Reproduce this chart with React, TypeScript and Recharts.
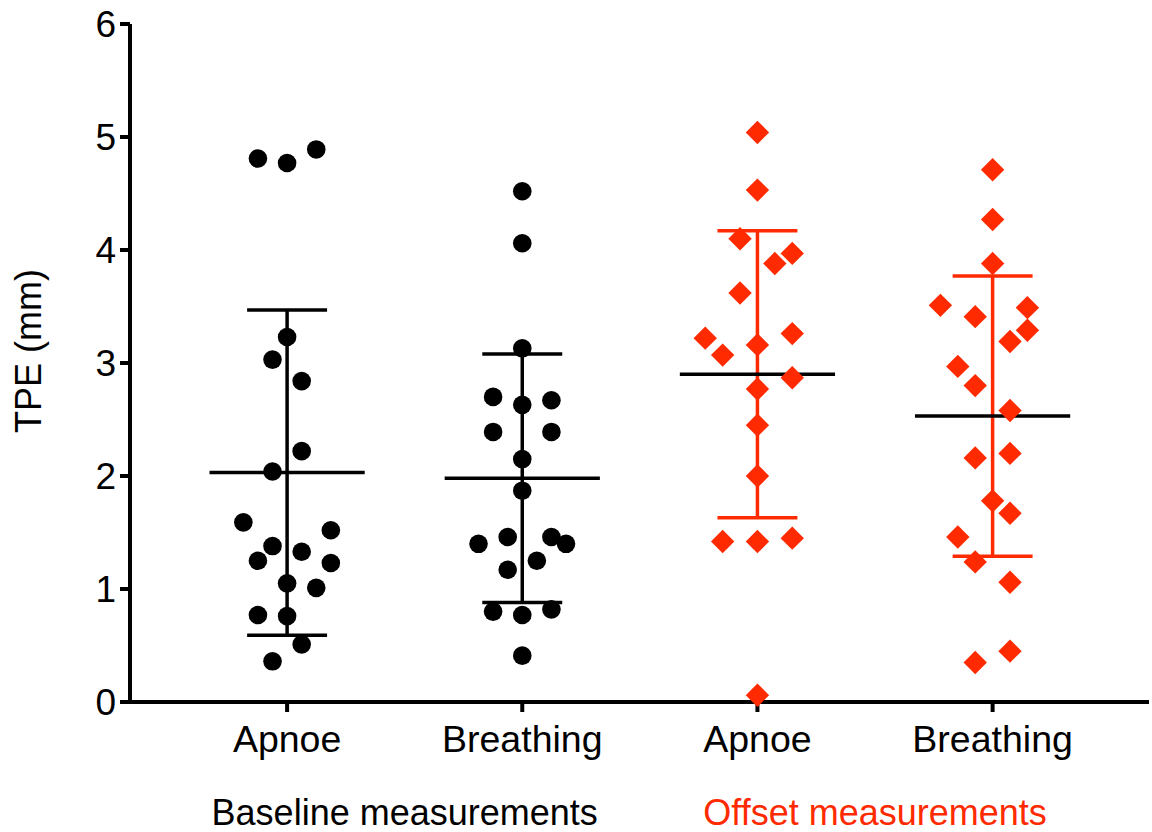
import { ScatterChart, Scatter, XAxis, YAxis, ReferenceLine } from "recharts";

const CATEGORIES = ["Apnoe", "Breathing", "Apnoe", "Breathing"];
const GROUP_LABELS = ["Baseline measurements", "Offset measurements"];
const GROUP_CENTERS = [1.5, 3.5];
const Y_TICKS = [0, 1, 2, 3, 4, 5, 6];

// TPE values (mm) per group, with the horizontal jitter slot of each point
const baselineApnoe = [4.81, 4.77, 4.89, 3.23, 3.03, 2.84, 2.22, 2.04, 1.59, 1.52, 1.38, 1.33, 1.25, 1.23, 1.05, 1.01, 0.77, 0.76, 0.51, 0.36];
const baselineApnoeSlots = [-2, 0, 2, 0, -1, 1, 1, -1, -3, 3, -1, 1, -2, 3, 0, 2, -2, 0, 1, -1];

const baselineBreathing = [4.52, 4.06, 3.13, 2.7, 2.63, 2.67, 2.39, 2.39, 2.15, 1.87, 1.4, 1.46, 1.46, 1.4, 1.25, 1.17, 0.8, 0.77, 0.82, 0.41];
const baselineBreathingSlots = [0, 0, 0, -2, 0, 2, -2, 2, 0, 0, -3, -1, 2, 3, 1, -1, -2, 0, 2, 0];

const offsetApnoe = [5.04, 4.53, 4.1, 3.97, 3.88, 3.62, 3.22, 3.26, 3.07, 3.16, 2.87, 2.77, 2.45, 2.0, 1.42, 1.42, 1.45, 0.06];
const offsetApnoeSlots = [0, 0, -1, 2, 1, -1, -3, 2, -2, 0, 2, 0, 0, 0, -2, 0, 2, 0];

const offsetBreathing = [4.71, 4.27, 3.88, 3.51, 3.49, 3.41, 3.29, 3.19, 2.97, 2.8, 2.58, 2.16, 2.2, 1.78, 1.67, 1.46, 1.24, 1.06, 0.45, 0.35];
const offsetBreathingSlots = [0, 0, 0, -3, 2, -1, 2, 1, -2, -1, 1, -1, 1, 0, 1, -2, -1, 1, 1, -1];

// mean and SD
const MEANS = [2.03, 1.98, 2.9, 2.53];
const SDS = [1.44, 1.1, 1.27, 1.24];

const RED = "#FF2A00";
const FONT = "'Liberation Sans', Arial, sans-serif";
const X_DOMAIN = [0.332, 4.665];
const MEAN_HALF = 0.33;
const CAP_HALF = 0.17;

const toPoints = (values: number[], slots: number[], cat: number, step: number) =>
  values.map((y, i) => ({ x: cat + slots[i] * step, y }));

const groups = [
  { data: toPoints(baselineApnoe, baselineApnoeSlots, 1, 0.062), color: "#000" },
  { data: toPoints(baselineBreathing, baselineBreathingSlots, 2, 0.062), color: "#000" },
  { data: toPoints(offsetApnoe, offsetApnoeSlots, 3, 0.074), color: RED },
  { data: toPoints(offsetBreathing, offsetBreathingSlots, 4, 0.074), color: RED },
];

// anchors for the group captions under the axis
const groupAnchors = GROUP_CENTERS.map((x) => ({ x, y: 0 }));

const Dot = (props: any) => <circle cx={props.cx} cy={props.cy} r={9.3} fill="#000" />;

const Diamond = (props: any) => {
  const { cx, cy } = props;
  const r = 11.7;
  return <polygon points={`${cx},${cy - r} ${cx + r},${cy} ${cx},${cy + r} ${cx - r},${cy}`} fill={RED} />;
};

const GroupTick = (props: any) => {
  const { x, y, payload } = props;
  const idx = payload.value < 2.5 ? 0 : 1;
  return (
    <text x={x} y={y} dy={63} textAnchor="middle" fontFamily={FONT} fontSize={36} fill={idx === 0 ? "#000" : RED}>
      {GROUP_LABELS[idx]}
    </text>
  );
};

const YLabel = () => (
  <text x={41} y={351} transform="rotate(-90 41 351)" textAnchor="middle" fontFamily={FONT} fontSize={36} fill="#000">
    TPE (mm)
  </text>
);

export default function App() {
  return (
    <div style={{ position: "absolute", left: 0, top: 0, width: 1152, height: 832, background: "#fff" }}>
      <ScatterChart width={1152} height={832} margin={{ top: 24, right: 3, bottom: 0, left: 0 }}>
        <XAxis
          xAxisId="cat"
          dataKey="x"
          type="number"
          domain={X_DOMAIN}
          ticks={[1, 2, 3, 4]}
          tickFormatter={(v) => CATEGORIES[v - 1]}
          allowDataOverflow
          height={60}
          tickSize={10}
          tickMargin={13}
          axisLine={{ stroke: "#000", strokeWidth: 4 }}
          tickLine={{ stroke: "#000", strokeWidth: 4 }}
          tick={{ fill: "#000", fontSize: 37.5, fontFamily: FONT }}
        />
        <XAxis
          xAxisId="grp"
          dataKey="x"
          type="number"
          domain={X_DOMAIN}
          ticks={GROUP_CENTERS}
          allowDataOverflow
          height={70}
          tickSize={0}
          tickMargin={0}
          axisLine={false}
          tickLine={false}
          tick={GroupTick}
        />
        <YAxis
          dataKey="y"
          type="number"
          domain={[0, 6]}
          ticks={Y_TICKS}
          width={130}
          tickSize={10}
          tickMargin={4}
          axisLine={{ stroke: "#000", strokeWidth: 4 }}
          tickLine={{ stroke: "#000", strokeWidth: 4 }}
          tick={{ fill: "#000", fontSize: 37, fontFamily: FONT }}
          label={{ content: () => <YLabel /> }}
        />
        <Scatter xAxisId="grp" data={groupAnchors} shape={() => <g />} isAnimationActive={false} />
        {groups.map((g, i) => (
          <Scatter
            key={`s-${i}`}
            xAxisId="cat"
            data={g.data}
            shape={i < 2 ? Dot : Diamond}
            isAnimationActive={false}
          />
        ))}
        {groups.map((g, i) => {
          const c = i + 1;
          const hi = MEANS[i] + SDS[i];
          const lo = MEANS[i] - SDS[i];
          return [
            <ReferenceLine key={`v-${i}`} xAxisId="cat" segment={[{ x: c, y: lo }, { x: c, y: hi }]} stroke={g.color} strokeWidth={3.5} />,
            <ReferenceLine key={`h-${i}`} xAxisId="cat" segment={[{ x: c - CAP_HALF, y: hi }, { x: c + CAP_HALF, y: hi }]} stroke={g.color} strokeWidth={3.5} />,
            <ReferenceLine key={`l-${i}`} xAxisId="cat" segment={[{ x: c - CAP_HALF, y: lo }, { x: c + CAP_HALF, y: lo }]} stroke={g.color} strokeWidth={3.5} />,
            <ReferenceLine key={`m-${i}`} xAxisId="cat" segment={[{ x: c - MEAN_HALF, y: MEANS[i] }, { x: c + MEAN_HALF, y: MEANS[i] }]} stroke="#000" strokeWidth={3.5} />,
          ];
        })}
      </ScatterChart>
    </div>
  );
}
